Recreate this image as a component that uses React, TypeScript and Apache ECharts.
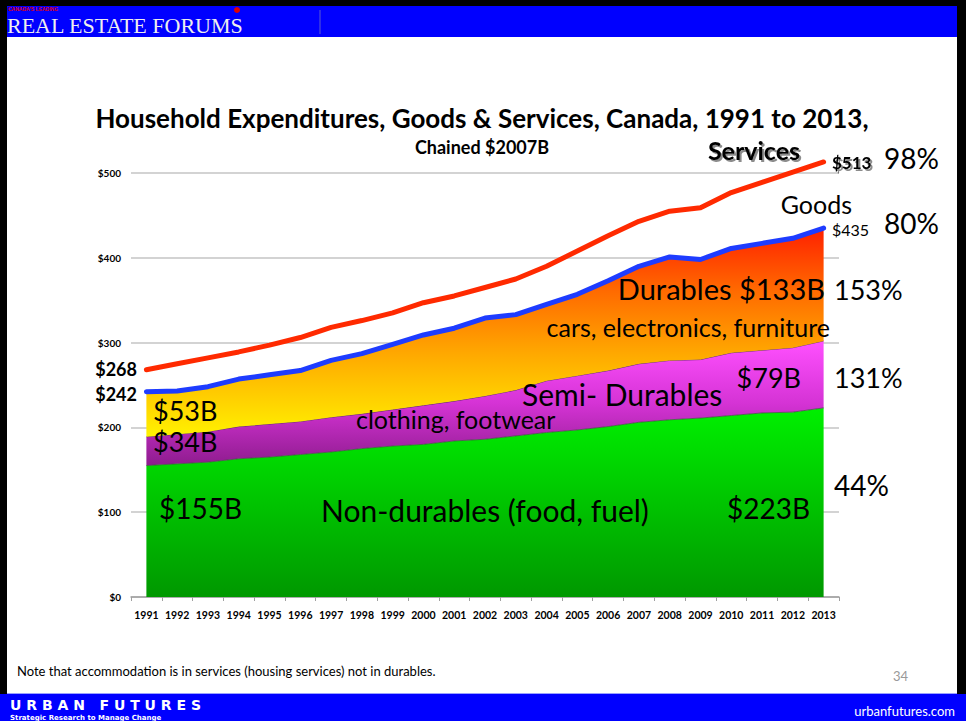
import React, { useEffect, useRef } from "react";
import * as echarts from "echarts";

const years = ["1991","1992","1993","1994","1995","1996","1997","1998","1999","2000","2001","2002","2003","2004","2005","2006","2007","2008","2009","2010","2011","2012","2013"];
const nonDurables = [155,157,159,163,165,168,171,175,178,180,184,186,190,194,197,201,206,209,211,214,217,218,223];
const semiDurables = [34,35,36,38,39,39,41,41,43,46,47,51,54,61,64,66,69,70,69,74,74,76,79];
const durables = [53,51,53,56,58,60,67,71,77,83,86,92,89,90,96,106,115,122,118,123,126,129,133];
const services = [268,275,282,289,297,306,318,326,335,347,355,365,375,390,408,426,443,455,459,477,489,501,513];

const FONT = "Lato, 'Open Sans', sans-serif";

function txt(text: string, x: number, y: number, size: number, opts: any = {}) {
  return {
    type: "text",
    x,
    y,
    z: 100,
    style: {
      text,
      fill: opts.fill || "#000",
      font: `${opts.weight || "normal"} ${size}px ${opts.family || FONT}`,
      textAlign: opts.align || "left",
      textVerticalAlign: "middle",
      ...(opts.shadow
        ? { textShadowColor: "rgba(0,0,0,0.45)", textShadowOffsetX: 2, textShadowOffsetY: 2, textShadowBlur: 1 }
        : {}),
    },
  };
}

export default function App() {
  const ref = useRef<HTMLDivElement>(null);
  useEffect(() => {
    const chart = echarts.init(ref.current!, undefined, { renderer: "svg" });
    const grad = (stops: [number, string][]) =>
      new echarts.graphic.LinearGradient(0, 0, 0, 1, stops.map(([offset, color]) => ({ offset, color })));
    chart.setOption({
      animation: false,
      backgroundColor: "#fff",
      grid: { left: 131, right: 127, top: 173, bottom: 124, containLabel: false },
      xAxis: {
        type: "category",
        data: years,
        boundaryGap: true,
        axisLine: { lineStyle: { color: "#a0a0a0", width: 1.5 } },
        axisTick: { show: true, length: 4, interval: 0, lineStyle: { color: "#a0a0a0" } },
        axisLabel: { interval: 0, color: "#000", fontSize: 10.5, fontWeight: "bold", fontFamily: FONT, margin: 12 },
      },
      yAxis: {
        type: "value",
        min: 0,
        max: 500,
        interval: 100,
        axisLine: { show: false },
        axisTick: { show: false },
        splitLine: { lineStyle: { color: "#c4c4c4", width: 1.5 } },
        axisLabel: { formatter: "${value}", color: "#000", fontSize: 10, fontWeight: "bold", fontFamily: FONT, margin: 10 },
      },
      series: [
        {
          name: "Non-durables",
          type: "line",
          stack: "goods",
          data: nonDurables,
          symbol: "none",
          lineStyle: { color: "#3a5a3a", width: 0.8 },
          areaStyle: { color: grad([[0, "#00f000"], [1, "#009800"]]), opacity: 1 },
          z: 2,
        },
        {
          name: "Semi-Durables",
          type: "line",
          stack: "goods",
          data: semiDurables,
          symbol: "none",
          lineStyle: { color: "#4a2a4a", width: 0.8 },
          areaStyle: { color: grad([[0, "#ff50ff"], [0.5, "#d533d5"], [1, "#8e1c8e"]]), opacity: 1 },
          z: 2,
        },
        {
          name: "Durables",
          type: "line",
          stack: "goods",
          data: durables,
          symbol: "none",
          clip: false,
          lineStyle: { color: "#1e3cff", width: 5, cap: "round", join: "round" },
          areaStyle: {
            color: grad([[0, "#ff2000"], [0.3, "#ff6a00"], [0.6, "#ffa800"], [1, "#fff200"]]),
            opacity: 1,
          },
          z: 3,
        },
        {
          name: "Services",
          type: "line",
          data: services,
          symbol: "none",
          clip: false,
          lineStyle: { color: "#ff2a00", width: 5, cap: "round", join: "round" },
          z: 4,
        },
      ],
      graphic: [
        // page border
        { type: "rect", shape: { x: 0, y: 0, width: 966, height: 6 }, style: { fill: "#000" }, z: 50 },
        { type: "rect", shape: { x: 0, y: 0, width: 7, height: 694 }, style: { fill: "#000" }, z: 50 },
        { type: "rect", shape: { x: 957, y: 0, width: 9, height: 694 }, style: { fill: "#000" }, z: 50 },
        // header bar
        { type: "rect", shape: { x: 7, y: 6, width: 950, height: 31 }, style: { fill: "#0000ff" }, z: 50 },
        { type: "line", shape: { x1: 320, y1: 10, x2: 320, y2: 34 }, style: { stroke: "#5a5ad0", lineWidth: 1 }, z: 51 },
        { type: "circle", shape: { cx: 237, cy: 10, r: 3 }, style: { fill: "#e00000" }, z: 51 },
        txt("CANADA'S LEADING", 8, 9, 5, { fill: "#e00000", weight: "bold", family: "'Liberation Sans', sans-serif" }),
        txt("REAL ESTATE FORUMS", 7, 25, 22, { fill: "#eeeeee", family: "'Liberation Serif', serif" }),
        // footer bar
        { type: "line", shape: { x1: 7, y1: 693.5, x2: 957, y2: 693.5 }, style: { stroke: "#9aa0ff", lineWidth: 1 }, z: 50 },
        { type: "rect", shape: { x: 0, y: 694, width: 966, height: 27 }, style: { fill: "#0000ff" }, z: 50 },
        txt("U R B A N   F U T U R E S", 10, 705, 14, { fill: "#fff", weight: "bold", family: "'DejaVu Sans', sans-serif" }),
        txt("Strategic Research to Manage Change", 10, 717.5, 7, { fill: "#fff", weight: "bold", family: "'DejaVu Sans', sans-serif" }),
        txt("urbanfutures.com", 955, 711, 13, { fill: "#fff", align: "right" }),
        // note and page number
        txt("Note that accommodation is in services (housing services) not in durables.", 17, 671, 13),
        txt("34", 893, 676, 13, { fill: "#999" }),
        // title
        txt("Household Expenditures, Goods & Services, Canada, 1991 to 2013,", 482, 118, 26, { weight: "bold", align: "center" }),
        txt("Chained $2007B", 482, 147, 18, { weight: "bold", align: "center" }),
        // left values
        txt("$268", 137, 369, 18, { weight: "bold", align: "right" }),
        txt("$242", 137, 394, 18, { weight: "bold", align: "right" }),
        txt("$53B", 153, 410, 27),
        txt("$34B", 153, 441, 27),
        txt("$155B", 159, 508, 28),
        txt("Non-durables (food, fuel)", 321, 510, 30),
        txt("$223B", 810, 508, 28, { align: "right" }),
        txt("clothing, footwear", 356, 419, 25),
        txt("Semi- Durables", 522, 394, 30),
        txt("$79B", 801, 377, 27, { align: "right" }),
        txt("cars, electronics, furniture", 830, 327, 25, { align: "right" }),
        txt("Durables $133B", 825, 288, 29, { align: "right" }),
        txt("Goods", 852, 204, 25, { align: "right" }),
        txt("$435", 832, 229, 16),
        txt("Services", 800, 150, 25, { weight: "bold", align: "right", shadow: true }),
        txt("$513", 832, 162, 17, { weight: "bold", shadow: true }),
        txt("98%", 884, 158, 28),
        txt("80%", 884, 223, 28),
        txt("153%", 834, 289, 27),
        txt("131%", 834, 377, 27),
        txt("44%", 834, 485, 28),
      ],
    });
    return () => chart.dispose();
  }, []);
  return <div ref={ref} style={{ position: "absolute", left: 0, top: 0, width: 966, height: 721 }} />;
}
